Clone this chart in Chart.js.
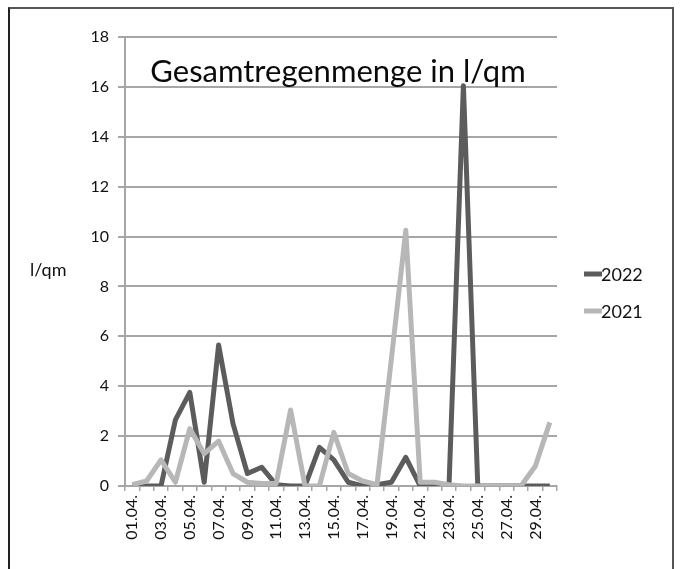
<!DOCTYPE html>
<html>
<head>
<meta charset="utf-8">
<script src="https://cdn.jsdelivr.net/npm/chart.js@4"></script>
<style>
  html, body { margin: 0; padding: 0; background: #fff; }
  #wrap { position: relative; width: 680px; height: 569px; overflow: hidden; }
  #frame { position: absolute; left: 8px; top: 7px; width: 662px; height: 600px; border-left: 2px solid #222; border-top: 2px solid #555; border-right: 2px solid #555; }
  canvas { position: absolute; left: 0; top: 0; }
</style>
</head>
<body>
<div id="wrap">
  <div id="frame"></div>
  <canvas id="c" width="680" height="569"></canvas>
</div>
<script>
const categories = ['01.04.','02.04.','03.04.','04.04.','05.04.','06.04.','07.04.','08.04.','09.04.','10.04.',
                    '11.04.','12.04.','13.04.','14.04.','15.04.','16.04.','17.04.','18.04.','19.04.','20.04.',
                    '21.04.','22.04.','23.04.','24.04.','25.04.','26.04.','27.04.','28.04.','29.04.','30.04.'];
const rain2022 = [0,0,0,2.65,3.75,0.15,5.65,2.5,0.5,0.75,0.05,0,0,1.55,1.05,0.15,0,0.05,0.15,1.15,0,0,0,16.05,0,0,0,0,0,0];
const rain2021 = [0.05,0.2,1.05,0.15,2.3,1.3,1.8,0.5,0.15,0.1,0.1,3.05,0,0,2.15,0.5,0.2,0.05,5.1,10.25,0.15,0.15,0.05,0,0,0,0,0,0.8,2.55];
const seriesNames = ['2022','2021'];
const yTicks = { min: 0, max: 18, step: 2 };
const titleText = 'Gesamtregenmenge in l/qm';
const yTitleText = 'l/qm';

const FONT = 'Lato, "Open Sans", sans-serif';
const DARK = '#5c5c5c';
const LIGHT = '#b7b7b7';
const GRID = '#a6a6a6';

const overlay = {
  id: 'overlay',
  afterDraw(chart) {
    const { ctx, chartArea: a, scales: { y } } = chart;
    ctx.save();
    ctx.fillStyle = '#0a0a0a';
    ctx.font = '31px ' + FONT;
    ctx.textAlign = 'center';
    ctx.textBaseline = 'middle';
    ctx.fillText(titleText, (a.left + a.right) / 2 - 3, y.getPixelForValue(16.6));
    ctx.font = '18px ' + FONT;
    ctx.textAlign = 'left';
    ctx.fillStyle = '#111';
    ctx.fillText(yTitleText, a.left - 95, y.getPixelForValue(8.65));
    const items = [{ t: seriesNames[0], c: DARK }, { t: seriesNames[1], c: LIGHT }];
    items.forEach((it, i) => {
      const yy = a.top + 237 + i * 37;
      ctx.strokeStyle = it.c;
      ctx.lineWidth = 5;
      ctx.beginPath();
      ctx.moveTo(a.right + 27, yy);
      ctx.lineTo(a.right + 45, yy);
      ctx.stroke();
      ctx.fillStyle = '#111';
      ctx.font = '18px ' + FONT;
      ctx.textAlign = 'left';
      ctx.fillText(it.t, a.right + 44, yy + 1);
    });
    ctx.restore();
  }
};

new Chart(document.getElementById('c'), {
  type: 'line',
  data: {
    labels: categories,
    datasets: [
      { label: seriesNames[0], data: rain2022, borderColor: DARK, backgroundColor: DARK,
        borderWidth: 5, pointRadius: 0, tension: 0, order: 2, borderJoinStyle: 'round' },
      { label: seriesNames[1], data: rain2021, borderColor: LIGHT, backgroundColor: LIGHT,
        borderWidth: 5, pointRadius: 0, tension: 0, order: 1, borderJoinStyle: 'round' }
    ]
  },
  options: {
    responsive: false,
    animation: false,
    layout: { padding: { left: 0, right: 123, top: 37, bottom: 0 } },
    plugins: { legend: { display: false }, title: { display: false }, tooltip: { enabled: false } },
    scales: {
      x: {
        offset: true,
        grid: { display: true, drawOnChartArea: false, drawTicks: true, tickLength: 5, offset: true, color: GRID, lineWidth: 1.5 },
        border: { display: true, color: GRID, width: 2 },
        ticks: {
          autoSkip: false, minRotation: 90, maxRotation: 90, padding: 4,
          color: '#111', font: { family: FONT, size: 16 },
          callback: function(v, i) { return i % 2 === 0 ? this.getLabelForValue(v) : ''; }
        },
        afterFit(s) { s.height = 83; }
      },
      y: {
        min: yTicks.min, max: yTicks.max,
        grid: { color: GRID, lineWidth: 2, tickLength: 7 },
        border: { display: true, color: GRID, width: 2 },
        ticks: { stepSize: yTicks.step, padding: 9, color: '#111', font: { family: FONT, size: 16 } },
        afterFit(s) { s.width = 125; }
      }
    }
  },
  plugins: [overlay]
});
</script>
</body>
</html>
